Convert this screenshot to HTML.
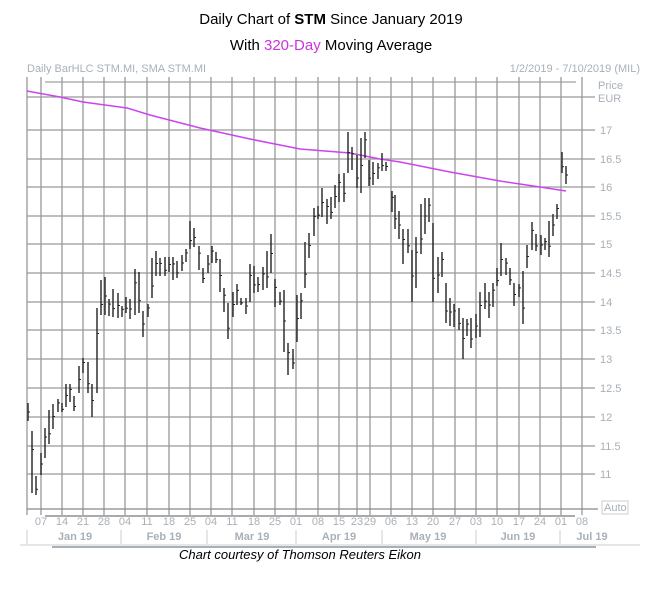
<!DOCTYPE html>
<html><head><meta charset="utf-8"><style>
body{margin:0;background:#fff;width:662px;height:592px;overflow:hidden}
svg{display:block}
</style></head><body>
<svg width="662" height="592" xmlns="http://www.w3.org/2000/svg" font-family="Liberation Sans, sans-serif">
<text x="331" y="24" font-size="15" text-anchor="middle" fill="#000">Daily Chart of <tspan font-weight="bold">STM</tspan> Since January 2019</text>
<text x="331" y="50" font-size="15" text-anchor="middle" fill="#000">With <tspan fill="#cc33dd">320-Day</tspan> Moving Average</text>
<text x="27" y="72" font-size="11" fill="#a8b0b8">Daily BarHLC STM.MI, SMA STM.MI</text>
<text x="640" y="72" font-size="11" fill="#a8b0b8" text-anchor="end">1/2/2019 - 7/10/2019 (MIL)</text>
<text x="598" y="89" font-size="11" fill="#a8b0b8">Price</text>
<text x="598" y="102" font-size="11" fill="#a8b0b8">EUR</text>
<line x1="45" y1="82" x2="576" y2="82" stroke="#888" stroke-width="1"/>
<g stroke="#999" stroke-width="1.3" id="g">
</g>
<g fill="#a8b0b8" font-size="11">
<text x="600" y="134">17</text><text x="600" y="163">16.5</text><text x="600" y="191">16</text><text x="600" y="220">15.5</text><text x="600" y="248">15</text><text x="600" y="277">14.5</text><text x="600" y="306">14</text><text x="600" y="334">13.5</text><text x="600" y="363">13</text><text x="600" y="392">12.5</text><text x="600" y="421">12</text><text x="600" y="450">11.5</text><text x="600" y="478">11</text>
</g>
<rect x="602" y="501" width="26" height="13" fill="#fff" stroke="#c8ccd0"/>
<text x="604" y="511" font-size="11" fill="#a8b0b8">Auto</text>
<line x1="45" y1="516" x2="575" y2="516" stroke="#555"/>
<g fill="#a8b0b8" font-size="11" text-anchor="middle" id="t"></g>
<g fill="#a8b0b8" font-size="11" font-weight="bold" text-anchor="middle">
<text x="75" y="540">Jan 19</text><text x="164" y="540">Feb 19</text><text x="252" y="540">Mar 19</text><text x="339" y="540">Apr 19</text><text x="428" y="540">May 19</text><text x="518" y="540">Jun 19</text><text x="592" y="540">Jul 19</text>
</g>
<g stroke="#ccc"><line x1="27" y1="530" x2="27" y2="544"/><line x1="121" y1="530" x2="121" y2="544"/><line x1="207" y1="530" x2="207" y2="544"/><line x1="296" y1="530" x2="296" y2="544"/><line x1="382" y1="530" x2="382" y2="544"/><line x1="476" y1="530" x2="476" y2="544"/><line x1="560" y1="530" x2="560" y2="544"/></g>
<line x1="20" y1="545" x2="640" y2="545" stroke="#ccc"/>
<line x1="52" y1="547" x2="596" y2="547" stroke="#a8b0b8" stroke-width="2"/>
<polyline fill="none" stroke="#cc44ee" stroke-width="1.5" points="27,91 60,97 83,102 127,108 150,115 200,128 250,139 300,149 350,153 380,159 400,162 450,172 500,181 540,187 566,191"/>
<g stroke="#222" stroke-width="1.4" id="b"></g>
<text x="300" y="559" font-size="13" font-style="italic" text-anchor="middle" fill="#000">Chart courtesy of Thomson Reuters Eikon</text>
<script>
var ns="http://www.w3.org/2000/svg";
function el(p,t,a,tx){var e=document.createElementNS(ns,t);for(var k in a)e.setAttribute(k,a[k]);if(tx)e.textContent=tx;p.appendChild(e);}
var g=document.getElementById('g');
var vx=[27,41,62,83,104,125,147,169,190,211,232,254,275,296,318,339,357,370,391,412,433,455,476,497,519,540,561,582];
vx.forEach(function(x){el(g,'line',{x1:x,y1:77,x2:x,y2:515});});
[97,130,159,187,216,244,273,302,330,359,388,417,446,474].forEach(function(y){el(g,'line',{x1:27,y1:y,x2:595,y2:y});});
el(g,'line',{x1:27,y1:509,x2:598,y2:509,stroke:'#888'});
var t=document.getElementById('t');
var lb=['07','14','21','28','04','11','18','25','04','11','18','25','01','08','15','23','29','06','13','20','27','03','10','17','24','01','08'];
lb.forEach(function(s,i){el(t,'text',{x:vx[i+1],y:525},s);});
var d=[[28,403,421],[32,431,493],[36,476,495],[41,453,475],[45,428,458],[49,410,444],[53,404,429],[58,399,412],[62,403,412],[66,384,407],[70,384,402],[74,396,411],[79,366,393],[83,358,373],[88,362,393],[92,384,417],[97,308,393],[101,280,315],[105,277,315],[109,299,316],[113,289,317],[118,293,318],[122,306,317],[126,297,313],[130,299,319],[135,269,315],[139,272,313],[143,311,337],[148,304,317],[152,258,298],[156,251,276],[160,258,276],[165,257,276],[169,257,272],[173,257,280],[177,261,278],[182,255,271],[186,249,262],[190,221,249],[194,228,247],[199,246,270],[203,268,283],[208,255,273],[212,246,263],[216,252,263],[220,259,292],[224,288,312],[228,303,339],[233,292,317],[237,284,305],[241,298,305],[246,298,314],[250,264,302],[254,266,293],[258,277,292],[263,267,290],[267,251,288],[271,234,273],[275,279,307],[280,292,305],[284,290,352],[288,343,375],[293,349,369],[297,295,342],[301,293,319],[305,242,288],[309,233,258],[314,208,236],[318,206,219],[322,188,217],[327,199,224],[331,197,219],[335,185,208],[339,174,202],[344,173,202],[348,132,173],[352,147,170],[357,155,188],[361,138,193],[365,132,158],[369,160,186],[373,162,185],[378,163,179],[382,153,171],[386,162,171],[392,191,212],[395,195,229],[399,211,239],[403,229,264],[408,229,253],[412,250,302],[416,237,288],[421,204,254],[425,198,234],[429,198,222],[433,223,302],[438,257,293],[442,252,277],[446,283,323],[450,298,326],[454,304,327],[459,308,330],[463,318,359],[467,319,336],[471,318,348],[476,314,338],[480,292,337],[485,283,309],[489,292,318],[493,283,307],[497,268,286],[501,243,276],[506,258,275],[510,268,285],[514,283,306],[519,284,297],[523,271,324],[527,245,268],[532,222,250],[536,234,251],[541,235,255],[545,238,250],[549,221,257],[553,214,236],[557,204,219],[562,152,173],[566,166,184]];
var b=document.getElementById('b');
d.forEach(function(r,i){var c=(i%3==0)?(r[1]+r[2])/2:(i%3==1?r[1]+(r[2]-r[1])*0.3:r[1]+(r[2]-r[1])*0.7);
el(b,'line',{x1:r[0],y1:r[1],x2:r[0],y2:r[2]});el(b,'line',{x1:r[0],y1:c,x2:r[0]+2,y2:c,'stroke-width':1});});
</script>
</svg>
</body></html>
